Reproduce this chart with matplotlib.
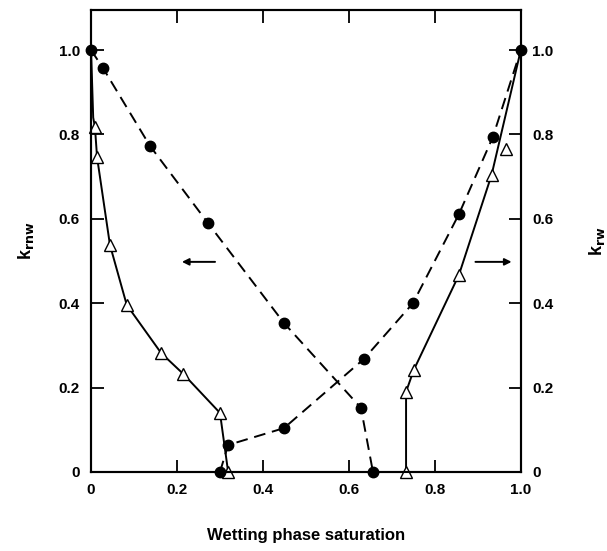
import matplotlib
matplotlib.use("Agg")
import matplotlib.pyplot as plt

plt.rcParams['font.family'] = ['Liberation Sans', 'DejaVu Sans']

# non-wetting phase rel. perm (left axis), drainage (filled) and imbibition (open)
sw_rnw_circ = [0.0, 0.028, 0.137, 0.272, 0.449, 0.628, 0.656]
krnw_circ = [1.0, 0.957, 0.773, 0.590, 0.353, 0.152, 0.0]
sw_rnw_tri = [0.0, 0.005, 0.009, 0.014, 0.044, 0.083, 0.163, 0.215, 0.300, 0.319]
krnw_tri = [1.0, 0.84, 0.818, 0.746, 0.538, 0.396, 0.282, 0.232, 0.140, 0.0]
tri_rnw_show = [2, 3, 4, 5, 6, 7, 8, 9]

# wetting phase rel. perm (right axis)
sw_rw_circ = [0.300, 0.319, 0.449, 0.635, 0.749, 0.856, 0.935, 1.0]
krw_circ = [0.0, 0.064, 0.104, 0.268, 0.400, 0.611, 0.794, 1.0]
sw_rw_tri = [0.733, 0.733, 0.751, 0.856, 0.932, 1.0]
krw_tri = [0.0, 0.190, 0.242, 0.467, 0.704, 1.0]
sw_rw_extra = [0.965]
krw_extra = [0.765]

ticks = [0, 0.2, 0.4, 0.6, 0.8, 1.0]
ticklabels = ['0', '0.2', '0.4', '0.6', '0.8', '1.0']

fig = plt.figure(figsize=(6.07, 5.51), dpi=100)
ax = fig.add_axes([0.150, 0.1434, 0.708, 0.8385])
ax2 = ax.twinx()

dash = (0, (6, 3.5))
ax.plot(sw_rnw_circ, krnw_circ, color='black', lw=1.4, linestyle=dash,
        marker='o', ms=7.5, mfc='black', mec='black', clip_on=False)
ax.plot(sw_rnw_tri, krnw_tri, color='black', lw=1.4, clip_on=False)
ax.plot([sw_rnw_tri[i] for i in tri_rnw_show], [krnw_tri[i] for i in tri_rnw_show],
        linestyle='none', marker='^', ms=8, mfc='white', mec='black', mew=1.0, clip_on=False)

ax2.plot(sw_rw_circ, krw_circ, color='black', lw=1.4, linestyle=dash,
         marker='o', ms=7.5, mfc='black', mec='black', clip_on=False)
ax2.plot(sw_rw_tri, krw_tri, color='black', lw=1.4, clip_on=False)
ax2.plot(sw_rw_tri[:-1] + sw_rw_extra, krw_tri[:-1] + krw_extra,
         linestyle='none', marker='^', ms=8, mfc='white', mec='black', mew=1.0, clip_on=False)

# arrows pointing to the relevant axis
ax.annotate('', xy=(0.205, 0.498), xytext=(0.295, 0.498),
            arrowprops=dict(arrowstyle='-|>', color='black', lw=1.4, mutation_scale=10))
ax2.annotate('', xy=(0.985, 0.498), xytext=(0.888, 0.498),
             arrowprops=dict(arrowstyle='-|>', color='black', lw=1.4, mutation_scale=10))

for a in (ax, ax2):
    a.set_xlim(0, 1.0)
    a.set_ylim(0, 1.095)
    a.set_yticks(ticks)
    a.set_yticklabels(ticklabels, fontsize=11, fontweight='bold')
    for s in a.spines.values():
        s.set_linewidth(1.5)
ax.set_xticks(ticks)
ax.set_xticklabels(ticklabels, fontsize=11, fontweight='bold')
ax.tick_params(direction='in', length=9, width=1.3, top=True, pad=8)
ax2.tick_params(direction='in', length=9, width=1.3, pad=8)

ax.set_ylabel(r'k$_{\mathbf{rnw}}$', fontsize=13, fontweight='bold', labelpad=16)
ax2.set_ylabel(r'k$_{\mathbf{rw}}$', fontsize=13, fontweight='bold', labelpad=24)
ax.set_xlabel('Wetting phase saturation', fontsize=12, fontweight='bold', labelpad=22)

fig.savefig('out.png', dpi=100)
